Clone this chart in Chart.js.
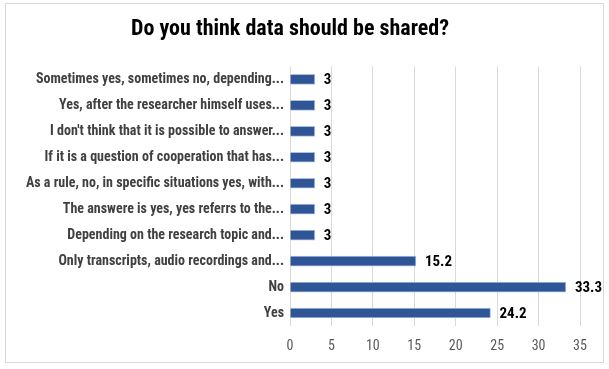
<!DOCTYPE html>
<html>
<head>
<meta charset="utf-8">
<script src="https://cdn.jsdelivr.net/npm/chart.js@4"></script>
<style>
    body { margin: 0; background: #fff; }
    #wrap { position: relative; width: 609px; height: 369px; }
    #frame { position: absolute; left: 5px; top: 3px; width: 599px; height: 360px; border: 1px solid #d9d9d9; box-sizing: border-box; pointer-events: none; }
</style>
</head>
<body>
<div id="wrap">
    <canvas id="chart" width="609" height="369"></canvas>
    <div id="frame"></div>
</div>
<script>
const categories = [
    'Sometimes yes, sometimes no, depending...',
    'Yes, after the researcher himself uses...',
    "I don't think that it is possible to answer...",
    'If it is a question of cooperation that has...',
    'As a rule, no, in specific situations yes, with...',
    'The answere is yes, yes referrs to the...',
    'Depending on the research topic and...',
    'Only transcripts, audio recordings and...',
    'No',
    'Yes'
];
const values = [3, 3, 3, 3, 3, 3, 3, 15.2, 33.3, 24.2];
const xTicks = [0, 5, 10, 15, 20, 25, 30, 35];

const labelFont = "'Liberation Sans Narrow', 'Roboto Condensed', 'DejaVu Sans Condensed', sans-serif";

// draws the value next to each bar
const valueLabels = {
    id: 'valueLabels',
    afterDatasetsDraw(chart) {
        const ctx = chart.ctx;
        const meta = chart.getDatasetMeta(0);
        ctx.save();
        ctx.font = 'bold 15px ' + labelFont;
        ctx.fillStyle = '#000';
        ctx.textAlign = 'left';
        ctx.textBaseline = 'middle';
        meta.data.forEach((bar, i) => {
            ctx.fillText(String(values[i]), bar.x + 9, bar.y + 1);
        });
        ctx.restore();
    }
};

new Chart(document.getElementById('chart'), {
    type: 'bar',
    data: {
        labels: categories,
        datasets: [{
            data: values,
            backgroundColor: '#2f5597',
            borderColor: '#a9bfe4',
            borderWidth: 1,
            barThickness: 10
        }]
    },
    plugins: [valueLabels],
    options: {
        indexAxis: 'y',
        responsive: false,
        animation: false,
        layout: { padding: { left: 0, right: 29, top: 0, bottom: 0 } },
        plugins: {
            legend: { display: false },
            tooltip: { enabled: false },
            title: {
                display: true,
                text: 'Do you think data should be shared?',
                color: '#000',
                font: { family: labelFont, size: 22, weight: 'bold' },
                padding: { top: 16, bottom: 24 }
            }
        },
        scales: {
            x: {
                min: 0,
                max: 35,
                afterBuildTicks: scale => { scale.ticks = xTicks.map(v => ({ value: v })); },
                afterFit: scale => { scale.height = 43; },
                grid: { color: '#d9d9d9', drawTicks: false },
                border: { display: false },
                ticks: { color: '#595959', padding: 12, font: { family: labelFont, size: 14 } }
            },
            y: {
                afterFit: scale => { scale.width = 290; },
                grid: { display: false, drawTicks: false },
                border: { display: false },
                ticks: { color: '#404040', padding: 6, autoSkip: false, font: { family: labelFont, size: 14, weight: 'bold' } }
            }
        }
    }
});
</script>
</body>
</html>
